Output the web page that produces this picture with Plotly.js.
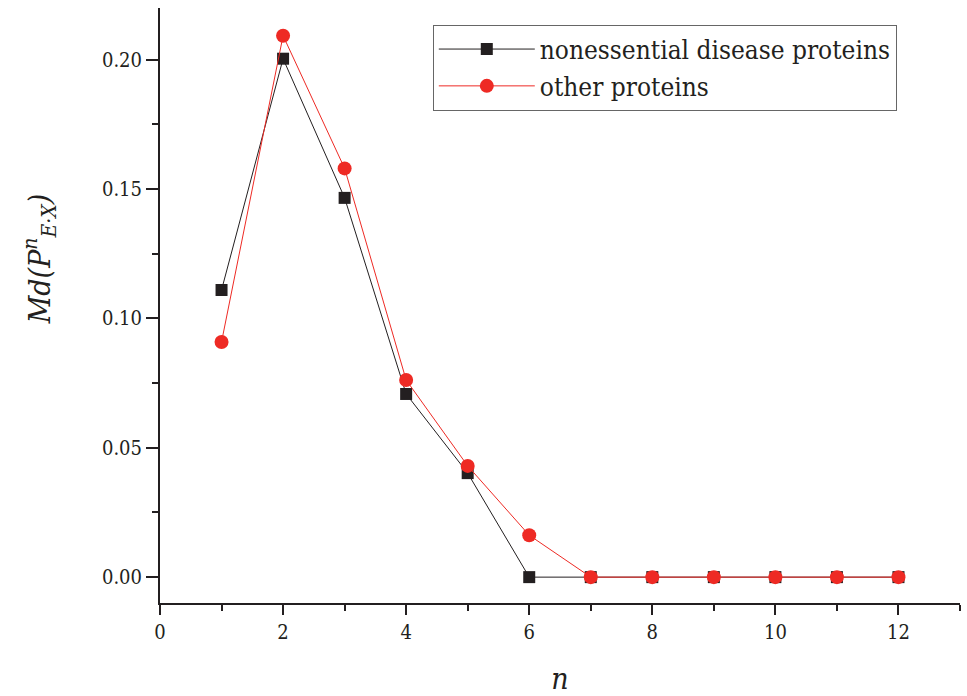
<!DOCTYPE html>
<html>
<head>
<meta charset="utf-8">
<script src="https://cdn.plot.ly/plotly-3.0.1.min.js"></script>
<style>html,body{margin:0;padding:0;background:#fff;}#chart{width:967px;height:696px;}</style>
</head>
<body>
<div id="chart"></div>
<script>
const nValues = [1, 2, 3, 4, 5, 6, 7, 8, 9, 10, 11, 12];
const nonessentialDisease = [0.111, 0.2004, 0.1466, 0.0708, 0.0402, 0, 0, 0, 0, 0, 0, 0];
const otherProteins = [0.0909, 0.2093, 0.158, 0.0762, 0.043, 0.0162, 0, 0, 0, 0, 0, 0];
const seriesNames = ['nonessential disease proteins', 'other proteins'];
const yTitle = '<i>Md(P<sup>n</sup><sub>E·X</sub>)</i>';
const xTitle = '<i>n</i>';

const traces = [
  {
    x: nValues, y: nonessentialDisease, name: seriesNames[0],
    type: 'scatter', mode: 'lines+markers',
    line: {color: '#231f20', width: 1},
    marker: {symbol: 'square', size: 12, color: '#231f20'}
  },
  {
    x: nValues, y: otherProteins, name: seriesNames[1],
    type: 'scatter', mode: 'lines+markers',
    line: {color: '#ee2a24', width: 1},
    marker: {symbol: 'circle', size: 14, color: '#ee2a24'}
  }
];

const fam = 'DejaVu Serif Condensed, DejaVu Serif';
const layout = {
  width: 967, height: 696,
  margin: {l: 160, r: 7, t: 8, b: 93},
  paper_bgcolor: '#fff', plot_bgcolor: '#fff',
  font: {family: fam, color: '#231f20', size: 20},
  showlegend: true,
  legend: {
    x: 0.341, y: 0.972, xanchor: 'left', yanchor: 'top',
    bordercolor: '#666', borderwidth: 1, bgcolor: '#fff',
    font: {family: fam, size: 26, color: '#231f20'},
    itemwidth: 96,
    tracegroupgap: 0
  },
  xaxis: {
    range: [0, 13], tickmode: 'array', tickvals: [0, 2, 4, 6, 8, 10, 12],
    ticks: 'outside', ticklen: 10, tickwidth: 2, tickcolor: '#231f20',
    minor: {tickmode: 'array', tickvals: [1, 3, 5, 7, 9, 11, 13], ticks: 'outside', ticklen: 6, tickwidth: 2, tickcolor: '#231f20', showgrid: false},
    showline: true, linecolor: '#231f20', linewidth: 2, mirror: false,
    showgrid: false, zeroline: false,
    tickfont: {family: fam, size: 20, color: '#231f20'},
    title: {text: xTitle, font: {family: fam, size: 30, color: '#231f20'}, standoff: 28}
  },
  yaxis: {
    range: [-0.01, 0.22], tickmode: 'array', tickvals: [0, 0.05, 0.10, 0.15, 0.20],
    ticktext: ['0.00', '0.05', '0.10', '0.15', '0.20'],
    ticks: 'outside', ticklen: 12, tickwidth: 2, tickcolor: '#231f20',
    minor: {tickmode: 'array', tickvals: [0.025, 0.075, 0.125, 0.175], ticks: 'outside', ticklen: 6, tickwidth: 2, tickcolor: '#231f20', showgrid: false},
    showline: true, linecolor: '#231f20', linewidth: 2, mirror: false,
    showgrid: false, zeroline: false,
    tickfont: {family: fam, size: 20, color: '#231f20'}
  },
  annotations: [
    {
      text: yTitle, xref: 'paper', yref: 'paper', x: -0.151, y: 0.578,
      xanchor: 'center', yanchor: 'middle', textangle: -90, showarrow: false,
      font: {family: fam, size: 30, color: '#231f20'}
    }
  ]
};

Plotly.newPlot('chart', traces, layout, {displayModeBar: false, staticPlot: true});
</script>
</body>
</html>
